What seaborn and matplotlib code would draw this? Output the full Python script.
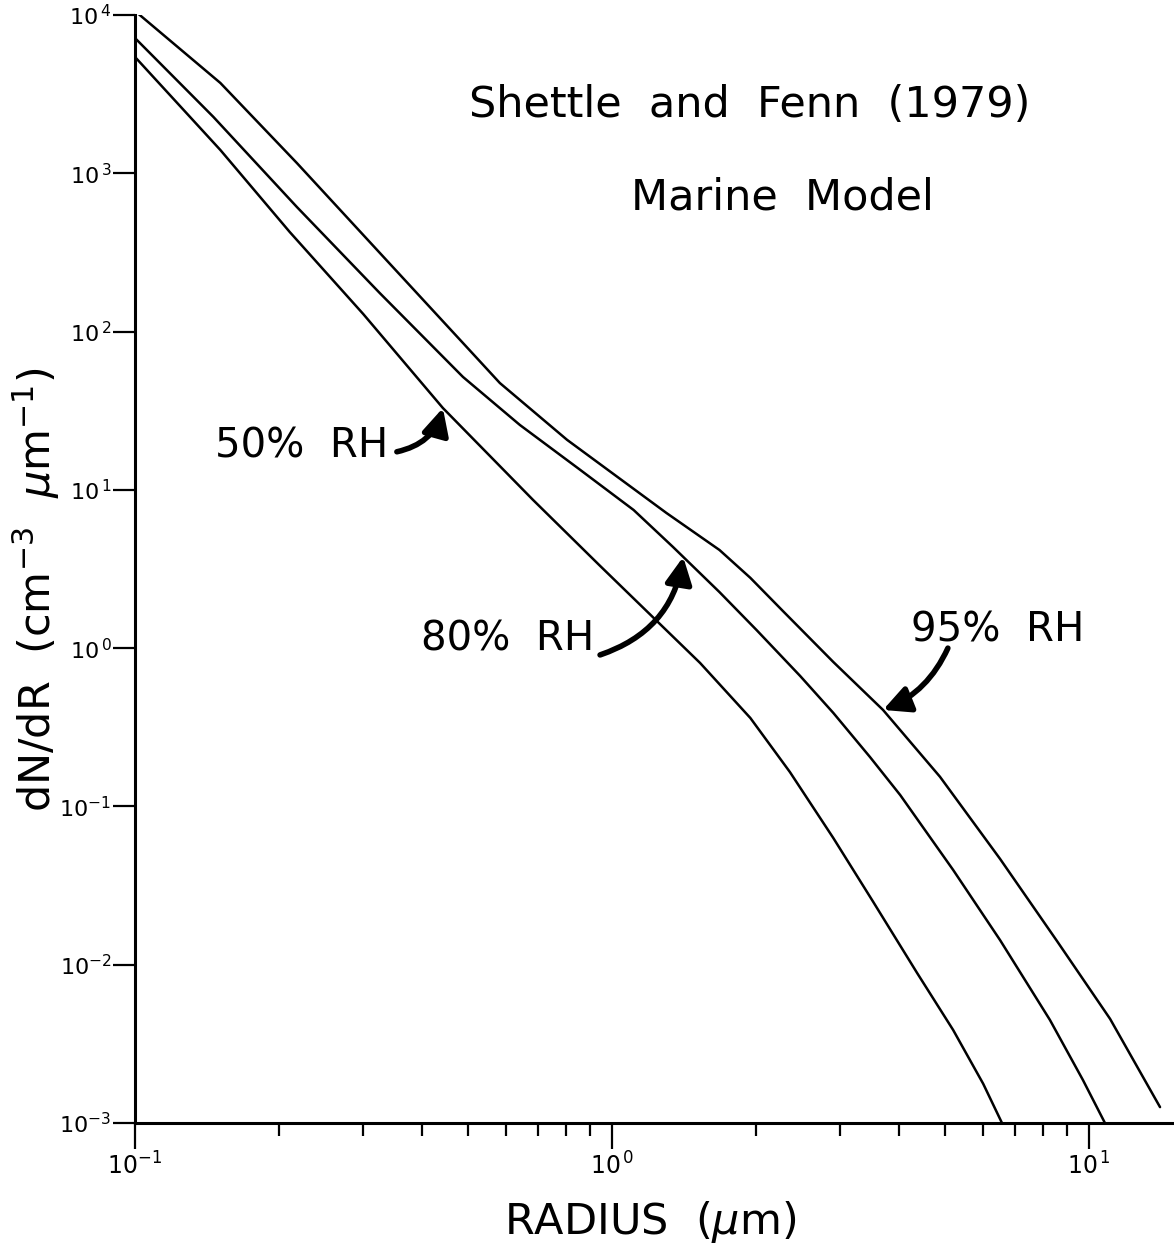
import numpy as np
import pandas as pd
import matplotlib
matplotlib.use("Agg")
import matplotlib.pyplot as plt
import seaborn as sns
from matplotlib.ticker import FixedLocator, NullLocator, NullFormatter, FixedFormatter

# ---- data (radius in um, dN/dR in cm^-3 um^-1) ----
r_50 = [0.100, 0.151, 0.211, 0.301, 0.442, 0.683, 0.944, 1.20, 1.53, 1.95,
        2.36, 2.91, 3.53, 4.36, 5.19, 6.00, 6.57]
n_50 = [5430, 1403, 426, 129, 32.9, 8.64, 3.31, 1.64, 0.806, 0.362,
        0.165, 0.0632, 0.0249, 8.88e-3, 3.87e-3, 1.77e-3, 1.0e-3]

r_80 = [0.100, 0.146, 0.2185, 0.326, 0.487, 0.641, 0.857, 1.11, 1.342, 1.68,
        2.01, 2.479, 2.91, 3.475, 4.02, 5.19, 6.51, 8.28, 9.71, 10.8]
n_80 = [7150, 2270, 612, 175, 51.7, 25.7, 13.4, 7.46, 4.36, 2.26,
        1.30, 0.668, 0.390, 0.205, 0.118, 0.0397, 0.0143, 4.48e-3, 1.87e-3, 1.0e-3]

r_95 = [0.100, 0.151, 0.2185, 0.326, 0.487, 0.582, 0.805, 1.30, 1.68, 1.95,
        2.28, 2.91, 3.70, 4.87, 6.51, 8.57, 11.07, 14.09]
n_95 = [10600, 3720, 1160, 314, 84.7, 47.3, 20.7, 7.15, 4.17, 2.78,
        1.72, 0.818, 0.407, 0.154, 0.0466, 0.0141, 4.55e-3, 1.26e-3]

series_names = ["50% RH", "80% RH", "95% RH"]
y_tick_vals = [1e-3, 1e-2, 1e-1, 1e0, 1e1, 1e2, 1e3, 1e4]
y_tick_labels = [r"$10^{-3}$", r"$10^{-2}$", r"$10^{-1}$", r"$10^{\,0}$",
                 r"$10^{\,1}$", r"$10^{\,2}$", r"$10^{\,3}$", r"$10^{\,4}$"]
x_tick_vals = [0.1, 1.0, 10.0]
x_tick_labels = [r"$10^{-1}$", r"$10^{\,0}$", r"$10^{\,1}$"]
x_minor_vals = [m * d for d in (0.1, 1.0) for m in range(2, 10)]

# label / arrow anchors (radius positions)
label_pos = {"50% RH": (0.224, 18.7), "80% RH": (0.605, 1.13), "95% RH": (6.45, 1.30)}
arrow_tail = {"50% RH": (0.354, 17.4), "80% RH": (0.944, 0.906), "95% RH": (5.06, 1.0)}
arrow_tip_r = {"50% RH": 0.442, "80% RH": 1.41, "95% RH": 3.70}
arrow_rad = {"50% RH": 0.3, "80% RH": 0.3, "95% RH": -0.2}

df = pd.concat([
    pd.DataFrame({"radius": r_50, "dndr": n_50, "rh": "50% RH"}),
    pd.DataFrame({"radius": r_80, "dndr": n_80, "rh": "80% RH"}),
    pd.DataFrame({"radius": r_95, "dndr": n_95, "rh": "95% RH"}),
], ignore_index=True)

sns.set_theme(style="ticks")
plt.rcParams["font.family"] = ["DejaVu Sans"]
plt.rcParams["mathtext.fontset"] = "dejavusans"

W, H = 1174, 1248
fig = plt.figure(figsize=(W / 100, H / 100), dpi=100)
fig.patch.set_facecolor("white")
ax = fig.add_axes([135 / W, (H - 1123) / H, (1173 - 135) / W, (1123 - 15) / H])
ax.set_facecolor("white")

sns.lineplot(data=df, x="radius", y="dndr", hue="rh", hue_order=series_names,
             palette=["black"] * 3, legend=False, estimator=None, sort=False,
             linewidth=1.8, ax=ax)
for ln in ax.get_lines():
    ln.set_solid_joinstyle("round")
    ln.set_solid_capstyle("round")

ax.set_xscale("log")
ax.set_yscale("log")
ax.set_xlim(0.1, 15)
ax.set_ylim(1e-3, 1e4)

for s in ("top", "right"):
    ax.spines[s].set_visible(False)
for s in ("left", "bottom"):
    ax.spines[s].set_linewidth(2.2)
    ax.spines[s].set_color("black")

ax.yaxis.set_major_locator(FixedLocator(y_tick_vals))
ax.yaxis.set_major_formatter(FixedFormatter(y_tick_labels))
ax.yaxis.set_minor_locator(NullLocator())
ax.xaxis.set_major_locator(FixedLocator(x_tick_vals))
ax.xaxis.set_major_formatter(FixedFormatter(x_tick_labels))
ax.xaxis.set_minor_locator(FixedLocator(x_minor_vals))
ax.xaxis.set_minor_formatter(NullFormatter())

ax.tick_params(axis="y", which="major", direction="out", length=16, width=1.6,
               labelsize=16, pad=1, colors="black")
ax.tick_params(axis="x", which="major", direction="out", length=19, width=1.6,
               labelsize=17, pad=2, colors="black")
ax.tick_params(axis="x", which="minor", direction="out", length=9, width=1.6,
               colors="black")
ax.set_xlabel("")
ax.set_ylabel("")

series_data = {"50% RH": (r_50, n_50), "80% RH": (r_80, n_80), "95% RH": (r_95, n_95)}
for name in series_names:
    rr, nn = series_data[name]
    tx = arrow_tip_r[name]
    ty = 10 ** np.interp(np.log10(tx), np.log10(rr), np.log10(nn))
    ax.annotate("", xy=(tx, ty), xytext=arrow_tail[name],
                arrowprops=dict(arrowstyle="-|>,head_length=0.8,head_width=0.4",
                                lw=4, color="black", mutation_scale=20,
                                shrinkA=0, shrinkB=0,
                                connectionstyle=f"arc3,rad={arrow_rad[name]}"))
    lx, ly = label_pos[name]
    ax.text(lx, ly, name.replace(" ", "  "), fontsize=29, ha="center", va="center",
            color="black")

fig.text(750 / W, 1 - 105 / H, "Shettle  and  Fenn  (1979)", fontsize=31,
         ha="center", va="center", color="black")
fig.text(782 / W, 1 - 198 / H, "Marine  Model", fontsize=31,
         ha="center", va="center", color="black")
fig.text(36 / W, 1 - 590 / H, r"dN/dR  (cm$^{-3}$  $\mu$m$^{-1}$)", fontsize=31,
         rotation=90, ha="center", va="center", color="black")
fig.text(650 / W, 1 - 1222 / H, r"RADIUS  ($\mu$m)", fontsize=31,
         ha="center", va="center", color="black")

fig.savefig("out.png", dpi=100, facecolor="white")
